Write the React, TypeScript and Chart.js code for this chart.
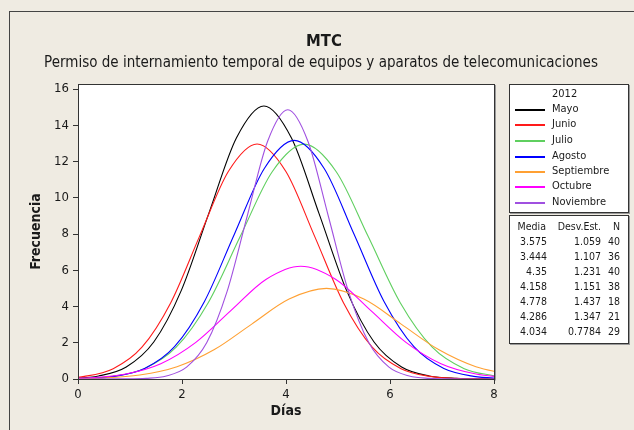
import React, { useEffect, useRef } from 'react';
import { Chart, registerables } from 'chart.js';

Chart.register(...registerables);

const FONT = '"DejaVu Sans Condensed", "DejaVu Sans", Tahoma, sans-serif';

const titleText = 'MTC';
const subtitleText = 'Permiso de internamiento temporal de equipos y aparatos de telecomunicaciones';
const legendTitle = '2012';
const xAxisTitle = 'Días';
const yAxisTitle = 'Frecuencia';

const seriesNames = ['Mayo', 'Junio', 'Julio', 'Agosto', 'Septiembre', 'Octubre', 'Noviembre'];
const seriesColors = ['#000000', '#ff1a1a', '#5fcf5f', '#0000ff', '#ffa033', '#ff00ff', '#a050e0'];

const mayoX = [-0.661, -0.132, 0.398, 0.928, 1.457, 1.987, 2.516, 3.046, 3.575, 4.105, 4.634, 5.164, 5.693, 6.223, 6.752, 7.282, 7.811, 8.341];
const mayoY = [0.005, 0.033, 0.167, 0.662, 2.04, 4.89, 9.14, 13.3, 15.07, 13.3, 9.14, 4.89, 2.04, 0.662, 0.167, 0.033, 0.005, 0.0006];

const junioX = [-0.984, -0.431, 0.123, 0.677, 1.23, 1.784, 2.337, 2.891, 3.444, 3.998, 4.551, 5.105, 5.658, 6.212, 6.765, 7.319, 7.872, 8.426];
const junioY = [0.004, 0.028, 0.144, 0.57, 1.755, 4.21, 7.87, 11.45, 12.97, 11.45, 7.87, 4.21, 1.755, 0.57, 0.144, 0.028, 0.004, 0.0005];

const julioX = [-0.574, 0.042, 0.657, 1.273, 1.888, 2.504, 3.119, 3.735, 4.35, 4.966, 5.581, 6.197, 6.812, 7.428, 8.043];
const julioY = [0.004, 0.028, 0.144, 0.569, 1.754, 4.21, 7.86, 11.44, 12.96, 11.44, 7.86, 4.21, 1.754, 0.569, 0.144];

const agostoX = [-0.446, 0.13, 0.705, 1.281, 1.856, 2.432, 3.007, 3.583, 4.158, 4.734, 5.309, 5.885, 6.46, 7.036, 7.611, 8.187];
const agostoY = [0.004, 0.029, 0.146, 0.579, 1.782, 4.28, 7.99, 11.62, 13.17, 11.62, 7.99, 4.28, 1.782, 0.579, 0.146, 0.029];

const septiembreX = [-0.252, 0.467, 1.186, 1.904, 2.623, 3.341, 4.06, 4.778, 5.497, 6.215, 6.934, 7.652, 8.371];
const septiembreY = [0.011, 0.056, 0.22, 0.677, 1.623, 3.03, 4.41, 5.0, 4.41, 3.03, 1.623, 0.677, 0.22];

const octubreX = [-0.429, 0.245, 0.919, 1.592, 2.266, 2.939, 3.613, 4.286, 4.96, 5.633, 6.307, 6.98, 7.654, 8.327];
const octubreY = [0.014, 0.069, 0.273, 0.842, 2.02, 3.77, 5.49, 6.22, 5.49, 3.77, 2.02, 0.842, 0.273, 0.069];

const noviembreX = [0, 0.92, 1.31, 1.699, 2.088, 2.477, 2.866, 3.256, 3.645, 4.034, 4.423, 4.812, 5.202, 5.591, 5.98, 6.369, 6.758, 7.148, 8];
const noviembreY = [0, 0.005, 0.033, 0.165, 0.653, 2.01, 4.82, 9.01, 13.11, 14.86, 13.11, 9.01, 4.82, 2.01, 0.653, 0.165, 0.033, 0.005, 0];

const seriesX = [mayoX, junioX, julioX, agostoX, septiembreX, octubreX, noviembreX];
const seriesY = [mayoY, junioY, julioY, agostoY, septiembreY, octubreY, noviembreY];

const statHeaders = ['Media', 'Desv.Est.', 'N'];
const statMeans = ['3.575', '3.444', '4.35', '4.158', '4.778', '4.286', '4.034'];
const statSds = ['1.059', '1.107', '1.231', '1.151', '1.437', '1.347', '0.7784'];
const statNs = ['40', '36', '40', '38', '18', '21', '29'];

const xMin = 0;
const xMax = 8;
const xStep = 2;
const yMin = 0;
const yMax = 16.28;
const yStep = 2;

const BG = '#efebe2';
const TEXT = '#1a1a1a';

const frameBorder = {
  id: 'frameBorder',
  afterDatasetsDraw(chart: any) {
    const { ctx, chartArea } = chart;
    ctx.save();
    ctx.strokeStyle = '#9a9a9a';
    ctx.lineWidth = 1;
    ctx.beginPath();
    ctx.moveTo(Math.round(chartArea.right) + 1.5, Math.round(chartArea.top) + 1);
    ctx.lineTo(Math.round(chartArea.right) + 1.5, Math.round(chartArea.bottom) + 1.5);
    ctx.stroke();
    ctx.strokeStyle = '#333333';
    ctx.strokeRect(
      Math.round(chartArea.left) + 0.5,
      Math.round(chartArea.top) + 0.5,
      Math.round(chartArea.right - chartArea.left),
      Math.round(chartArea.bottom - chartArea.top)
    );
    ctx.restore();
  },
};

const plotBg = {
  id: 'plotBg',
  beforeDraw(chart: any) {
    const { ctx, chartArea } = chart;
    ctx.save();
    ctx.fillStyle = '#ffffff';
    ctx.fillRect(chartArea.left, chartArea.top, chartArea.right - chartArea.left, chartArea.bottom - chartArea.top);
    ctx.restore();
  },
};

function ChartCanvas() {
  const ref = useRef<HTMLCanvasElement | null>(null);
  useEffect(() => {
    if (!ref.current) return;
    const datasets = seriesNames.map((name, i) => ({
      label: name,
      data: seriesX[i].map((x, j) => ({ x, y: seriesY[i][j] })),
      borderColor: seriesColors[i],
      backgroundColor: seriesColors[i],
      borderWidth: 1.1,
      pointRadius: 0,
      fill: false,
      cubicInterpolationMode: 'monotone' as const,
      order: seriesNames.length - 1 - i,
    }));
    const chart = new Chart(ref.current, {
      type: 'line',
      data: { datasets },
      options: {
        animation: false,
        responsive: false,
        devicePixelRatio: 1,
        layout: { padding: { left: 25, right: 140, top: 84, bottom: 0 } },
        plugins: { legend: { display: false }, tooltip: { enabled: false }, title: { display: false } },
        scales: {
          x: {
            type: 'linear',
            min: xMin,
            max: xMax,
            ticks: { stepSize: xStep, color: TEXT, font: { family: FONT, size: 13 }, padding: 3, includeBounds: false },
            grid: { display: true, drawOnChartArea: false, drawTicks: true, tickLength: 5, tickColor: '#333333' },
            border: { display: true, color: '#333333' },
            title: { display: true, text: xAxisTitle, color: TEXT, font: { family: FONT, size: 14, weight: 'bold' }, padding: { top: 2, bottom: 10 } },
            afterFit: (s: any) => {
              s.height = 51;
              s.paddingLeft = 0;
              s.paddingRight = 0;
            },
          },
          y: {
            type: 'linear',
            min: yMin,
            max: yMax,
            ticks: { stepSize: yStep, color: TEXT, font: { family: FONT, size: 13 }, padding: 4, includeBounds: false },
            grid: { display: true, drawOnChartArea: false, drawTicks: true, tickLength: 5, tickColor: '#333333' },
            border: { display: true, color: '#333333' },
            title: { display: true, text: yAxisTitle, color: TEXT, font: { family: FONT, size: 14, weight: 'bold' }, padding: { top: 3, bottom: 4 } },
            afterFit: (s: any) => {
              s.width = 53;
              s.paddingTop = 0;
              s.paddingBottom = 0;
            },
          },
        },
      },
      plugins: [plotBg, frameBorder],
    });
    return () => chart.destroy();
  }, []);
  return <canvas ref={ref} width={634} height={430} style={{ position: 'absolute', left: 0, top: 0, display: 'block' }} />;
}

const legendRowY = [109, 124, 140, 156, 171, 186, 202];
const statRowY = [241, 256, 271, 286, 301, 316, 331];

export default function App() {
  const abs = (style: React.CSSProperties): React.CSSProperties => ({ position: 'absolute', ...style });
  return (
    <div style={{ position: 'fixed', left: 0, top: 0, width: 634, height: 430, background: BG, overflow: 'hidden', fontFamily: FONT, color: TEXT }}>
      <div style={abs({ left: 9, top: 11, right: -5, bottom: -5, borderLeft: '1px solid #444', borderTop: '1px solid #444' })} />
      <ChartCanvas />
      <div style={abs({ left: 0, width: 648, top: 30, textAlign: 'center', fontSize: 16.5, fontWeight: 'bold', lineHeight: '22px' })}>{titleText}</div>
      <div style={abs({ left: 0, width: 642, top: 51, textAlign: 'center', fontSize: 15, lineHeight: '22px', whiteSpace: 'nowrap' })}>{subtitleText}</div>

      <div style={abs({ left: 509, top: 84, width: 118, height: 127, background: '#fff', border: '1px solid #333', boxShadow: '1px 1px 0 #9a9a9a' })} />
      <div style={abs({ left: 552, top: 94 - 7, fontSize: 11, lineHeight: '14px' })}>{legendTitle}</div>
      {seriesNames.map((name, i) => (
        <React.Fragment key={name}>
          <div style={abs({ left: 515, width: 30, top: legendRowY[i], height: 1.5, background: seriesColors[i] })} />
          <div style={abs({ left: 552, top: legendRowY[i] - 7, fontSize: 11, lineHeight: '14px', whiteSpace: 'nowrap' })}>{name}</div>
        </React.Fragment>
      ))}

      <div style={abs({ left: 509, top: 215, width: 118, height: 127, background: '#fff', border: '1px solid #333', boxShadow: '1px 1px 0 #9a9a9a' })} />
      <div style={abs({ right: 634 - 546, top: 226 - 7, fontSize: 10.5, lineHeight: '14px' })}>{statHeaders[0]}</div>
      <div style={abs({ right: 634 - 601, top: 226 - 7, fontSize: 10.5, lineHeight: '14px' })}>{statHeaders[1]}</div>
      <div style={abs({ right: 634 - 620, top: 226 - 7, fontSize: 10.5, lineHeight: '14px' })}>{statHeaders[2]}</div>
      {statMeans.map((m, i) => (
        <React.Fragment key={i}>
          <div style={abs({ right: 634 - 547, top: statRowY[i] - 7, fontSize: 10.5, lineHeight: '14px' })}>{m}</div>
          <div style={abs({ right: 634 - 601, top: statRowY[i] - 7, fontSize: 10.5, lineHeight: '14px' })}>{statSds[i]}</div>
          <div style={abs({ right: 634 - 620, top: statRowY[i] - 7, fontSize: 10.5, lineHeight: '14px' })}>{statNs[i]}</div>
        </React.Fragment>
      ))}
    </div>
  );
}
